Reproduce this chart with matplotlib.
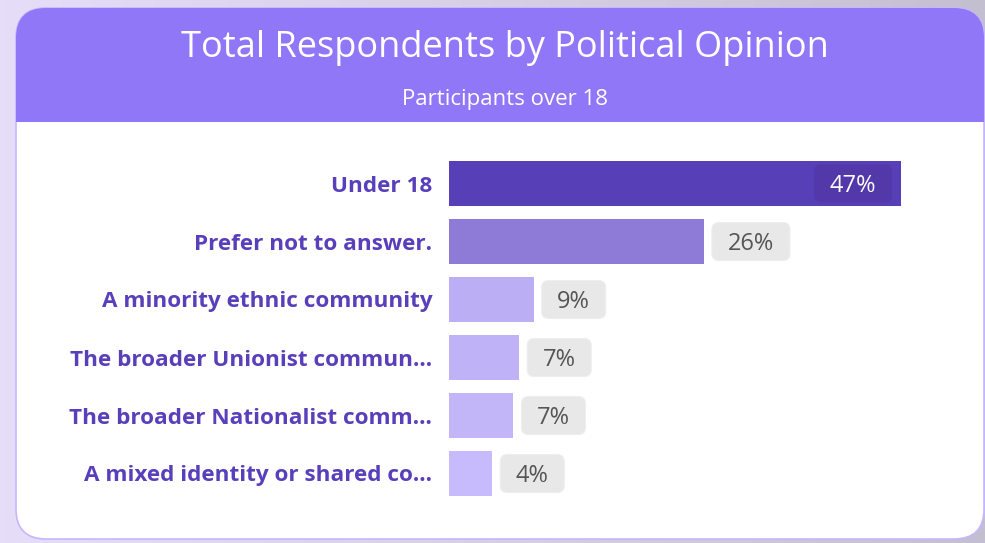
import matplotlib
matplotlib.use("Agg")
import matplotlib.pyplot as plt
from matplotlib.patches import FancyBboxPatch, Rectangle
import numpy as np

categories = [
    "Under 18",
    "Prefer not to answer.",
    "A minority ethnic community",
    "The broader Unionist commun...",
    "The broader Nationalist comm...",
    "A mixed identity or shared co...",
]
values = [47.0, 26.5, 8.8, 7.3, 6.7, 4.5]
value_labels = ["47%", "26%", "9%", "7%", "7%", "4%"]
bar_colors = ["#573fb8", "#8e7bd8", "#bcaef4", "#bfb2f6", "#c2b5f8", "#c8bbfd"]

title = "Total Respondents by Political Opinion"
subtitle = "Participants over 18"

W, H = 985, 543
plt.rcParams["font.family"] = ["Open Sans", "DejaVu Sans"]

fig = plt.figure(figsize=(W / 100, H / 100), dpi=100)

# background / card layer in pixel coordinates
bg = fig.add_axes([0, 0, 1, 1])
bg.set_xlim(0, W)
bg.set_ylim(H, 0)
bg.axis("off")

# soft backdrop: lavender on the left fading to grey
grad = np.linspace(0, 1, 256).reshape(1, -1)
cmap = matplotlib.colors.LinearSegmentedColormap.from_list("bd", ["#e6ddf8", "#d6d0e6", "#c4bfd0"])
bg.imshow(grad, extent=[0, W, H, 0], aspect="auto", cmap=cmap, zorder=0)

# card
card_x, card_y, card_w, card_h = 16, 8, 968, 531
card = FancyBboxPatch((card_x, card_y), card_w, card_h, boxstyle="round,pad=0,rounding_size=30",
                      facecolor="white", edgecolor="#c6b6ff", linewidth=1.2, zorder=1)
bg.add_patch(card)
header = FancyBboxPatch((card_x, card_y), card_w, 114, boxstyle="round,pad=0,rounding_size=30",
                        facecolor="#9077f8", edgecolor="none", zorder=2)
bg.add_patch(header)
bg.add_patch(Rectangle((card_x, 80), card_w, 42, facecolor="#9077f8", edgecolor="none", zorder=2))

bg.text(505, 48, title, color="white", fontsize=26, ha="center", va="center", zorder=3)
bg.text(505, 99, subtitle, color="white", fontsize=16, ha="center", va="center", zorder=3)

# bar axes
px_per_unit = 9.62
ax_left, ax_w = 449, 500
ax_top, ax_bot = 154.5, 502.5
ax = fig.add_axes([ax_left / W, 1 - ax_bot / H, ax_w / W, (ax_bot - ax_top) / H])
ax.set_xlim(0, ax_w / px_per_unit)
ax.set_ylim(len(categories) - 0.5, -0.5)
ax.patch.set_alpha(0)
for s in ax.spines.values():
    s.set_visible(False)
ax.set_xticks([])

y = np.arange(len(categories))
ax.barh(y, values, height=45 / 58, color=bar_colors, zorder=3)
ax.set_yticks(y)
ax.set_yticklabels(categories, fontsize=16.2, fontweight="bold", color="#5a3fbb")
ax.tick_params(axis="y", length=0, pad=12)

# value badges
to_px = lambda xd, yd: bg.transData.inverted().transform(ax.transData.transform((xd, yd)))
fs = 17
cap = 0.714 * fs / 72 * 100
for i, (v, lab) in enumerate(zip(values, value_labels)):
    xe, yc = to_px(v, i)
    bw = 64 if len(lab) == 2 else 78
    bh = 38
    if i == 0:
        x0 = xe - 9 - bw
        fc, tc = "#5238a8", "white"
    else:
        x0 = xe + 8
        fc, tc = "#e8e8e8", "#555555"
    badge = FancyBboxPatch((x0, yc - bh / 2), bw, bh, boxstyle="round,pad=0,rounding_size=7",
                           facecolor=fc, edgecolor="#eeeeee" if i else "none", linewidth=0.8,
                           zorder=5, transform=bg.transData)
    fig.add_artist(badge)
    fig.text((x0 + bw / 2) / W, 1 - (yc + cap / 2) / H, lab, color=tc, fontsize=fs,
             ha="center", va="baseline", zorder=6)

fig.savefig("out.png", dpi=100)
